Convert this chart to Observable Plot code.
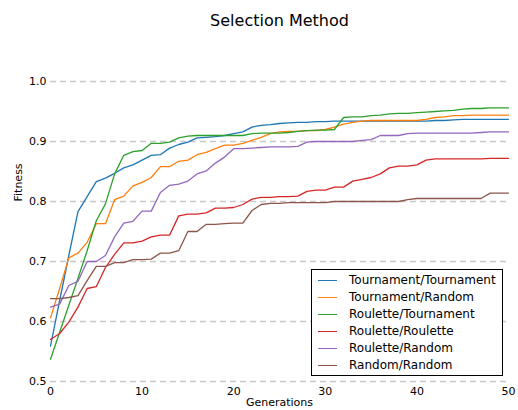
<!DOCTYPE html>
<html>
<head>
<meta charset="utf-8">
<script src="https://cdn.jsdelivr.net/npm/d3@7"></script>
<script src="https://cdn.jsdelivr.net/npm/@observablehq/plot@0.6"></script>
<style>
  body { margin: 0; background: #fff; }
  #wrap { position: relative; width: 518px; height: 410px; font-family: "DejaVu Sans", sans-serif; }
  #legend { position: absolute; left: 311px; top: 269px; width: 192px; height: 107px; box-sizing: border-box;
            border: 1px solid #000; background: #fff; font-size: 12px; color: #000; }
  .row { position: absolute; left: 0; height: 17px; line-height: 17px; white-space: nowrap; }
  .swatch { position: absolute; left: 6px; top: 8px; width: 19px; height: 0; border-top: 1.3px solid; }
  .lab { position: absolute; left: 37px; top: 0; }
</style>
</head>
<body>
<div id="wrap"><div id="legend"></div></div>
<script>
const generations = d3.range(0, 51);
const seriesNames = ["Tournament/Tournament", "Tournament/Random", "Roulette/Tournament", "Roulette/Roulette", "Roulette/Random", "Random/Random"];
const seriesColors = ["#1f77b4", "#ff7f0e", "#2ca02c", "#d62728", "#9467bd", "#8c564b"];

const tournamentTournament = [0.559,0.635,0.710,0.783,0.808,0.833,0.839,0.847,0.856,0.861,
  0.869,0.877,0.878,0.889,0.895,0.899,0.906,0.907,0.908,0.910,
  0.913,0.916,0.924,0.927,0.928,0.930,0.931,0.932,0.932,0.933,
  0.933,0.934,0.934,0.934,0.934,0.934,0.934,0.934,0.934,0.934,
  0.934,0.934,0.935,0.935,0.936,0.937,0.937,0.937,0.937,0.937,0.937];
const tournamentRandom = [0.606,0.655,0.706,0.714,0.732,0.763,0.763,0.803,0.809,0.826,
  0.832,0.840,0.858,0.858,0.867,0.869,0.878,0.882,0.888,0.894,
  0.894,0.897,0.902,0.907,0.913,0.916,0.917,0.917,0.918,0.918,
  0.920,0.924,0.929,0.932,0.934,0.935,0.935,0.935,0.935,0.935,
  0.935,0.937,0.940,0.941,0.943,0.943,0.944,0.944,0.944,0.944,0.944];
const rouletteTournament = [0.537,0.582,0.627,0.672,0.718,0.768,0.796,0.846,0.877,0.883,
  0.885,0.897,0.897,0.899,0.906,0.909,0.910,0.910,0.910,0.910,
  0.910,0.910,0.913,0.914,0.914,0.914,0.915,0.917,0.918,0.919,
  0.919,0.920,0.940,0.941,0.941,0.943,0.944,0.946,0.947,0.947,
  0.948,0.949,0.950,0.951,0.952,0.954,0.955,0.955,0.956,0.956,0.956];
const rouletteRoulette = [0.570,0.580,0.599,0.624,0.655,0.658,0.690,0.712,0.731,0.731,
  0.734,0.741,0.744,0.744,0.776,0.779,0.779,0.781,0.789,0.789,
  0.790,0.795,0.804,0.807,0.807,0.808,0.808,0.809,0.817,0.819,
  0.819,0.824,0.824,0.834,0.837,0.840,0.846,0.856,0.859,0.859,
  0.861,0.869,0.871,0.871,0.871,0.871,0.871,0.871,0.872,0.872,0.872];
const rouletteRandom = [0.624,0.629,0.660,0.667,0.700,0.700,0.710,0.741,0.764,0.767,
  0.784,0.784,0.815,0.827,0.829,0.834,0.846,0.851,0.864,0.874,
  0.888,0.888,0.889,0.890,0.891,0.891,0.891,0.892,0.899,0.900,
  0.900,0.900,0.900,0.900,0.902,0.903,0.910,0.910,0.910,0.913,
  0.914,0.914,0.914,0.914,0.914,0.914,0.914,0.915,0.916,0.916,0.916];
const randomRandom = [0.638,0.638,0.640,0.643,0.668,0.692,0.692,0.698,0.698,0.703,
  0.703,0.704,0.714,0.714,0.718,0.750,0.750,0.762,0.762,0.763,
  0.764,0.764,0.785,0.795,0.797,0.797,0.798,0.798,0.798,0.798,
  0.798,0.800,0.800,0.800,0.800,0.800,0.800,0.800,0.800,0.803,
  0.805,0.805,0.805,0.805,0.805,0.805,0.805,0.805,0.814,0.814,0.814];

const seriesValues = [tournamentTournament, tournamentRandom, rouletteTournament, rouletteRoulette, rouletteRandom, randomRandom];
const xTicks = [0, 10, 20, 30, 40, 50];
const yTicks = [0.5, 0.6, 0.7, 0.8, 0.9, 1.0];

const rows = [];
seriesNames.forEach((name, i) => {
  seriesValues[i].forEach((v, j) => rows.push({series: name, gen: generations[j], value: v}));
});

const chart = Plot.plot({
  width: 518,
  height: 410,
  marginLeft: 50,
  marginRight: 10,
  marginTop: 21,
  marginBottom: 29,
  style: {fontFamily: "DejaVu Sans, sans-serif", fontSize: "11px", color: "#000", background: "#fff", overflow: "visible"},
  x: {domain: [0, 50], ticks: xTicks, tickFormat: d => String(d)},
  y: {domain: [0.5, 1.1], ticks: yTicks, tickFormat: d3.format(".1f")},
  color: {domain: seriesNames, range: seriesColors},
  marks: [
    Plot.ruleY(yTicks, {stroke: "#c8c8c8", strokeWidth: 1.3, strokeDasharray: "6,4"}),
    ...seriesNames.map((name, i) => Plot.line(rows.filter(r => r.series === name),
      {x: "gen", y: "value", stroke: seriesColors[i], strokeWidth: 1.3})),
    Plot.axisX({ticks: xTicks, tickSize: 0, tickPadding: 6, label: null, tickFormat: d => String(d)}),
    Plot.axisY({ticks: yTicks, tickSize: 0, tickPadding: 4, label: null, tickFormat: d3.format(".1f")}),
    Plot.text(["Fitness"], {frameAnchor: "left", dx: -32, rotate: -90, fontSize: 11, fill: "#000"}),
    Plot.text(["Generations"], {frameAnchor: "bottom", dy: 24, fontSize: 11, fill: "#000"}),
    Plot.text(["Selection Method"], {frameAnchor: "top", dy: -7, fontSize: 16, fill: "#000"})
  ]
});

const wrap = document.getElementById("wrap");
wrap.insertBefore(chart, wrap.firstChild);

const legend = document.getElementById("legend");
seriesNames.forEach((name, i) => {
  const row = document.createElement("div");
  row.className = "row";
  row.style.top = (2 + i * 17) + "px";
  row.style.width = "100%";
  const sw = document.createElement("div");
  sw.className = "swatch";
  sw.style.borderTopColor = seriesColors[i];
  const lab = document.createElement("div");
  lab.className = "lab";
  lab.textContent = name;
  row.appendChild(sw);
  row.appendChild(lab);
  legend.appendChild(row);
});
</script>
</body>
</html>
